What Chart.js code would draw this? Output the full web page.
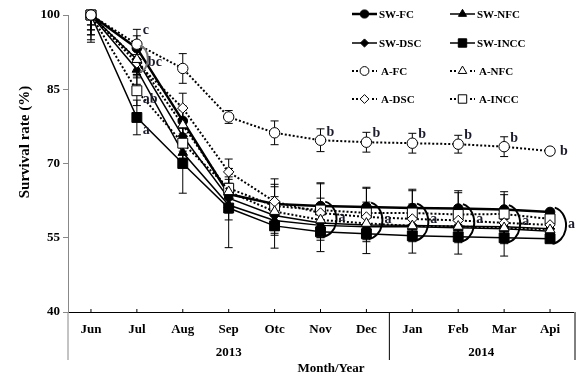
<!DOCTYPE html>
<html>
<head>
<meta charset="utf-8">
<script src="https://cdn.jsdelivr.net/npm/chart.js@4.4.1/dist/chart.umd.min.js"></script>
<style>
  body { margin: 0; background: #fff; }
  canvas { display: block; }
</style>
</head>
<body>
<canvas id="survival" width="581" height="377"></canvas>
<script>
const months = ['Jun', 'Jul', 'Aug', 'Sep', 'Otc', 'Nov', 'Dec', 'Jan', 'Feb', 'Mar', 'Api'];
const yearLabels = ['2013', '2014'];
const yTicks = [40, 55, 70, 85, 100];

// survival rate (%) per treatment
const swFc   = [100, 93.3, 78.6, 63.8, 61.8, 61.4, 61.2, 61.0, 60.9, 60.7, 60.2];
const swNfc  = [100, 89.0, 72.2, 61.6, 58.5, 57.5, 57.2, 57.2, 57.0, 56.8, 56.3];
const swDsc  = [100, 91.0, 75.5, 63.0, 59.5, 58.0, 57.6, 57.5, 57.3, 57.2, 56.8];
const swIncc = [100, 79.3, 70.0, 61.0, 57.4, 56.2, 55.8, 55.4, 55.2, 55.0, 54.8];
const aFc    = [100, 94.1, 89.2, 79.4, 76.2, 74.7, 74.3, 74.1, 73.9, 73.4, 72.5];
const aNfc   = [100, 91.0, 77.8, 64.3, 60.3, 58.6, 57.9, 57.4, 57.3, 57.0, 56.6];
const aDsc   = [100, 90.3, 81.2, 68.3, 62.3, 60.0, 59.2, 58.8, 58.5, 58.0, 57.6];
const aIncc  = [100, 84.7, 74.1, 65.0, 61.4, 60.6, 60.0, 60.0, 59.7, 59.8, 58.8];

// error bar half-lengths
const swFcErr   = [3.0, 2.5, 3.0, 3.0, 4.0, 4.5, 4.0, 3.5, 3.2, 3.0, 0];
const swNfcErr  = [4.0, 3.0, 3.0, 3.0, 3.0, 3.0, 3.0, 3.0, 3.0, 3.0, 0];
const swDscErr  = [5.0, 3.0, 3.0, 3.0, 3.0, 3.0, 3.0, 3.0, 3.0, 3.0, 0];
const swInccErr = [5.5, 3.5, 6.0, 8.0, 4.5, 4.0, 4.0, 3.5, 3.5, 3.7, 0];
const aFcErr    = [2.0, 3.0, 3.0, 1.3, 2.4, 2.3, 2.0, 2.0, 1.8, 2.0, 0];
const aNfcErr   = [3.0, 3.0, 3.0, 3.0, 3.0, 3.0, 3.0, 3.0, 3.0, 3.0, 0];
const aDscErr   = [4.0, 3.0, 3.0, 2.6, 3.0, 3.0, 3.0, 3.0, 3.0, 3.0, 0];
const aInccErr  = [2.0, 3.0, 3.0, 4.0, 5.5, 5.5, 5.0, 4.8, 4.8, 4.5, 0];

// significance letters: [month index, value, text]
const letters = [
    [1, 96.8, 'c'], [1, 90.5, 'bc'], [1, 83.0, 'ab'], [1, 76.6, 'a'],
    [5, 76.3, 'b'], [6, 76.0, 'b'], [7, 75.8, 'b'], [8, 75.6, 'b'], [9, 75.1, 'b'], [10, 72.4, 'b'],
    [5, 59.2, 'a'], [6, 58.8, 'a'], [7, 58.8, 'a'], [8, 58.8, 'a'], [9, 58.4, 'a'], [10, 57.6, 'a']
];

const FONT = '"Liberation Serif", "Times New Roman", serif';

function solid(label, data, err, style, radius, width) {
    return {
        label, data, err, order: 1,
        borderColor: '#000', backgroundColor: '#000',
        pointBackgroundColor: '#000', pointBorderColor: '#000',
        borderWidth: width, pointStyle: style, pointRadius: radius,
        pointBorderWidth: 1, tension: 0, clip: false
    };
}

function dotted(label, data, err, style, radius) {
    return {
        label, data, err, order: 0,
        borderColor: '#000', backgroundColor: '#fff',
        pointBackgroundColor: '#fff', pointBorderColor: '#000',
        borderWidth: 2, borderDash: [2, 2], pointStyle: style, pointRadius: radius,
        pointBorderWidth: 1, tension: 0, clip: false
    };
}

const errorBars = {
    id: 'errorBars',
    beforeDatasetsDraw(chart) {
        const ctx = chart.ctx, y = chart.scales.y;
        ctx.save();
        ctx.strokeStyle = '#000';
        ctx.lineWidth = 1;
        chart.data.datasets.forEach((ds, i) => {
            const meta = chart.getDatasetMeta(i);
            ds.data.forEach((v, j) => {
                const e = ds.err[j];
                if (!e) return;
                const x = meta.data[j].x;
                const top = y.getPixelForValue(Math.min(v + e, 100));
                const bot = y.getPixelForValue(v - e);
                ctx.beginPath();
                ctx.moveTo(x, top); ctx.lineTo(x, bot);
                if (v + e <= 100) { ctx.moveTo(x - 4, top); ctx.lineTo(x + 4, top); }
                ctx.moveTo(x - 4, bot); ctx.lineTo(x + 4, bot);
                ctx.stroke();
            });
        });
        ctx.restore();
    }
};

const decorations = {
    id: 'decorations',
    afterDraw(chart) {
        const ctx = chart.ctx, x = chart.scales.x, y = chart.scales.y, area = chart.chartArea;
        ctx.save();

        // small ticks at category centres
        ctx.strokeStyle = '#000';
        ctx.lineWidth = 1;
        months.forEach((m, i) => {
            const px = x.getPixelForValue(i);
            ctx.beginPath(); ctx.moveTo(px, area.bottom); ctx.lineTo(px, area.bottom - 3); ctx.stroke();
        });

        // year dividers
        const split = (x.getPixelForValue(6) + x.getPixelForValue(7)) / 2;
        ctx.beginPath();
        ctx.moveTo(split, area.bottom); ctx.lineTo(split, 360);
        ctx.moveTo(area.right + 2, area.bottom); ctx.lineTo(area.right + 2, 360);
        ctx.stroke();
        ctx.strokeStyle = '#888';
        ctx.beginPath(); ctx.moveTo(area.left, area.bottom); ctx.lineTo(area.left, 360); ctx.stroke();

        ctx.fillStyle = '#000';
        ctx.textAlign = 'center';
        ctx.textBaseline = 'middle';
        ctx.font = 'bold 13px ' + FONT;
        ctx.fillText(yearLabels[0], (x.getPixelForValue(0) + x.getPixelForValue(6)) / 2, 353);
        ctx.fillText(yearLabels[1], (x.getPixelForValue(7) + x.getPixelForValue(10)) / 2, 353);
        ctx.fillText('Month/Year', 331, 369);

        ctx.translate(25, 142);
        ctx.rotate(-Math.PI / 2);
        ctx.font = 'bold 15px ' + FONT;
        ctx.fillText('Survival rate (%)', 0, 0);
        ctx.restore();

        // significance brackets
        ctx.save();
        ctx.strokeStyle = '#000';
        ctx.lineWidth = 2;
        for (let i = 5; i < months.length; i++) {
            const px = x.getPixelForValue(i);
            const t = y.getPixelForValue(swFc[i]), b = y.getPixelForValue(swIncc[i]);
            const ry = (b - t) / 2 + 5;
            ctx.beginPath();
            ctx.ellipse(px + 1, (t + b) / 2, 15, ry, 0, -Math.PI / 2 + 0.25, Math.PI / 2 - 0.1);
            ctx.stroke();
        }
        {
            const px = x.getPixelForValue(1);
            const t = y.getPixelForValue(swFc[1]), b = y.getPixelForValue(swNfc[1]);
            ctx.strokeStyle = '#777';
            ctx.beginPath();
            ctx.ellipse(px + 3, (t + b) / 2, 8, (b - t) / 2 + 2, 0, -Math.PI / 2, Math.PI / 2);
            ctx.stroke();
        }

        // letters
        ctx.fillStyle = '#1b1b2b';
        ctx.font = 'bold 14px ' + FONT;
        ctx.textBaseline = 'middle';
        ctx.textAlign = 'left';
        letters.forEach(([i, v, t]) => {
            let dx = 6;
            if (i >= 5 && v < 65) dx = 18;
            if (i === 10 && v > 65) dx = 10;
            if (i === 1 && t === 'bc') dx = 11;
            ctx.fillText(t, x.getPixelForValue(i) + dx, y.getPixelForValue(v));
        });
        ctx.restore();

        // legend
        ctx.save();
        const rows = [14, 43, 71, 99];
        const cols = [352, 450];
        ctx.font = 'bold 11px ' + FONT;
        ctx.textBaseline = 'middle';
        ctx.textAlign = 'left';
        chart.data.datasets.forEach((ds, k) => {
            const lx = cols[k % 2], ly = rows[Math.floor(k / 2)];
            const isDot = !!ds.borderDash;
            ctx.strokeStyle = '#000';
            ctx.lineWidth = isDot ? 2 : ds.borderWidth;
            ctx.setLineDash(isDot ? [2, 2] : []);
            ctx.beginPath(); ctx.moveTo(lx, ly); ctx.lineTo(lx + 25, ly); ctx.stroke();
            ctx.setLineDash([]);
            ctx.lineWidth = 1;
            if (isDot) {
                ctx.fillStyle = '#fff';
                ctx.fillRect(lx + 7, ly - 4, 11, 8);
            }
            ctx.fillStyle = ds.pointBackgroundColor;
            Chart.helpers.drawPoint(ctx, {
                pointStyle: ds.pointStyle, radius: ds.pointRadius * 0.85, rotation: 0, borderWidth: 1
            }, lx + 12.5, ly);
            ctx.fillStyle = '#000';
            ctx.fillText(ds.label, lx + (isDot ? 29 : 27), ly + 1);
        });
        ctx.restore();
    }
};

new Chart(document.getElementById('survival'), {
    type: 'line',
    data: {
        labels: months,
        datasets: [
            solid('SW-FC', swFc, swFcErr, 'circle', 4.8, 2.5),
            solid('SW-NFC', swNfc, swNfcErr, 'triangle', 5.5, 1.5),
            solid('SW-DSC', swDsc, swDscErr, 'rectRot', 4.8, 1.5),
            solid('SW-INCC', swIncc, swInccErr, 'rect', 7, 1.5),
            dotted('A-FC', aFc, aFcErr, 'circle', 5.2),
            dotted('A-NFC', aNfc, aNfcErr, 'triangle', 5.8),
            dotted('A-DSC', aDsc, aDscErr, 'rectRot', 5.2),
            dotted('A-INCC', aIncc, aInccErr, 'rect', 7)
        ]
    },
    options: {
        responsive: false,
        animation: false,
        layout: { padding: { top: 15, right: 4, left: 0, bottom: 0 } },
        plugins: { legend: { display: false }, tooltip: { enabled: false } },
        scales: {
            x: {
                offset: true,
                afterFit: s => { s.height = 65; },
                grid: { display: true, drawOnChartArea: false, drawTicks: false },
                border: { color: '#000', width: 1 },
                ticks: { color: '#000', padding: 10, font: { family: FONT, size: 13, weight: 'bold' } }
            },
            y: {
                min: 40, max: 100,
                afterFit: s => { s.width = 68; },
                afterBuildTicks: s => { s.ticks = yTicks.map(v => ({ value: v })); },
                grid: { drawOnChartArea: false, drawTicks: true, tickLength: 5, color: '#888' },
                border: { color: '#888', width: 1 },
                ticks: { color: '#000', padding: 3, font: { family: FONT, size: 13, weight: 'bold' } }
            }
        }
    },
    plugins: [errorBars, decorations]
});
</script>
</body>
</html>
